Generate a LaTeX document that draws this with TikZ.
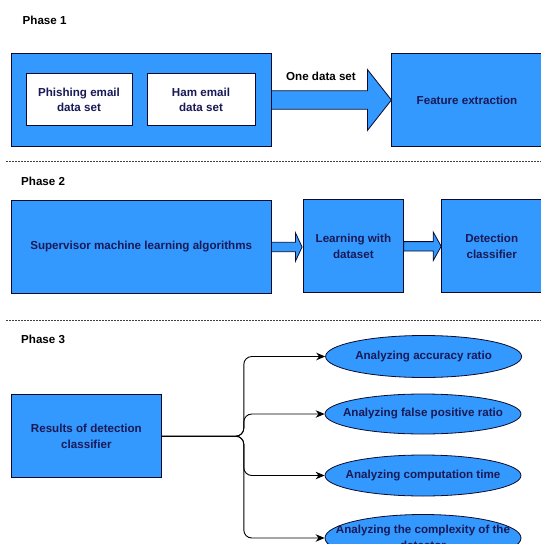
\documentclass[tikz,border=0pt]{standalone}
\usepackage{fontspec}
\setmainfont{Liberation Sans}
\usetikzlibrary{shapes.geometric,arrows.meta,calc}
\definecolor{boxblue}{RGB}{51,153,255}
\definecolor{boxline}{RGB}{10,10,45}
\definecolor{boxtext}{RGB}{25,25,85}
\tikzset{
  bluebox/.style={draw=boxline, line width=0.8pt, fill=boxblue, text=boxtext,
    font=\fontsize{11.6}{16}\selectfont\bfseries, align=center, inner sep=0pt},
  whitebox/.style={draw=boxline, line width=0.8pt, fill=white, text=boxtext,
    font=\fontsize{11.6}{15}\selectfont\bfseries, align=center, inner sep=0pt},
  oval/.style={ellipse, draw=boxline, line width=0.8pt, fill=boxblue,
    inner sep=0pt, minimum width=196pt},
  ovaltext/.style={text=boxtext, font=\fontsize{11.6}{16}\selectfont\bfseries,
    align=center, inner sep=0pt},
  phase/.style={anchor=west, font=\fontsize{11.6}{14}\selectfont\bfseries, inner sep=0pt},
  plain/.style={font=\fontsize{11.6}{14}\selectfont\bfseries, inner sep=0pt},
  barrow/.style={draw=boxline, line width=0.8pt, fill=boxblue, line join=miter},
  sep/.style={draw=black!75, line width=0.6pt, dash pattern=on 2pt off 1pt},
  conn/.style={draw=black, line width=0.9pt, rounded corners=8pt,
    -{Stealth[length=9pt,width=7.5pt]}}
}
\begin{document}
\begin{tikzpicture}[x=1pt,y=-1pt]
\useasboundingbox (0,0) rectangle (541,544);
\clip (0,0) rectangle (541,544);

% ---------- Phase 1 ----------
\node[phase] (p1) at (22.5,20.7) {Phase 1};
\node[bluebox, minimum width=259.6pt, minimum height=93.2pt] (box1) at (141.2,100) {};
\node[whitebox, minimum width=106pt, minimum height=52pt] (phish) at (79,99.5) {Phishing email\\data set};
\node[whitebox, minimum width=108pt, minimum height=52pt] (ham) at (201,99.5) {Ham email\\data set};
\node[bluebox, minimum width=151pt, minimum height=93.2pt] (feat) at (467,100) {Feature extraction};
\draw[barrow] (box1.east) ++(0,-9.2) -- ++(96,0) -- ++(0,-21.3) -- ++(24,30.5)
   -- ++(-24,30.5) -- ++(0,-21.3) -- ++(-96,0) -- cycle;
\node[plain] (one) at (321,76) {One data set};

\coordinate (s1a) at (6,161);
\coordinate (s1b) at (541,161);
\draw[sep] (s1a) -- (s1b);

% ---------- Phase 2 ----------
\node[phase] (p2) at (21,181.4) {Phase 2};
\node[bluebox, minimum width=259.6pt, minimum height=92.7pt] (sup) at (141.2,247) {Supervisor machine learning algorithms};
\node[bluebox, minimum width=100pt, minimum height=93pt] (learn) at (353.4,246.3) {Learning with\\dataset};
\node[bluebox, minimum width=100.6pt, minimum height=93pt] (det) at (491.7,246.3) {Detection\\classifier};
\draw[barrow] (sup.east) ++(0,-4.7) -- ++(24,0) -- ++(0,-9.6) -- ++(6.7,14.3)
   -- ++(-6.7,14.3) -- ++(0,-9.6) -- ++(-24,0) -- cycle;
\draw[barrow] (learn.east) ++(0,-4.7) -- ++(29.4,0) -- ++(0,-9.6) -- ++(8,14.3)
   -- ++(-8,14.3) -- ++(0,-9.6) -- ++(-29.4,0) -- cycle;

\coordinate (s2a) at (6,320);
\coordinate (s2b) at (541,320);
\draw[sep] (s2a) -- (s2b);

% ---------- Phase 3 ----------
\node[phase] (p3) at (21,339) {Phase 3};
\node[bluebox, minimum width=150pt, minimum height=82.8pt] (res) at (86.4,436.2) {Results of detection\\classifier};
\node[oval, minimum height=42pt] (e1) at (423.6,356.5) {};
\node[oval, minimum height=40pt] (e2) at (423,414) {};
\node[oval, minimum height=41pt] (e3) at (423,475.5) {};
\node[oval, minimum height=47pt] (e4) at (423,538) {};
\node[ovaltext] (t1) at (e1.center) {Analyzing accuracy ratio};
\node[ovaltext] (t2) at (e2.center) {Analyzing false positive ratio};
\node[ovaltext] (t3) at (e3.center) {Analyzing computation time};
\node[ovaltext] (t4) at ([yshift=1pt]e4.center) {Analyzing the complexity of the\\detector};

\coordinate (fork) at (243.8,436.2);
\draw[conn] (res.east) -- (fork) |- (e1.west);
\draw[conn] (res.east) -- (fork) |- (e2.west);
\draw[conn] (res.east) -- (fork) |- (e3.west);
\draw[conn] (res.east) -- (fork) |- (e4.west);
\end{tikzpicture}
\end{document}
